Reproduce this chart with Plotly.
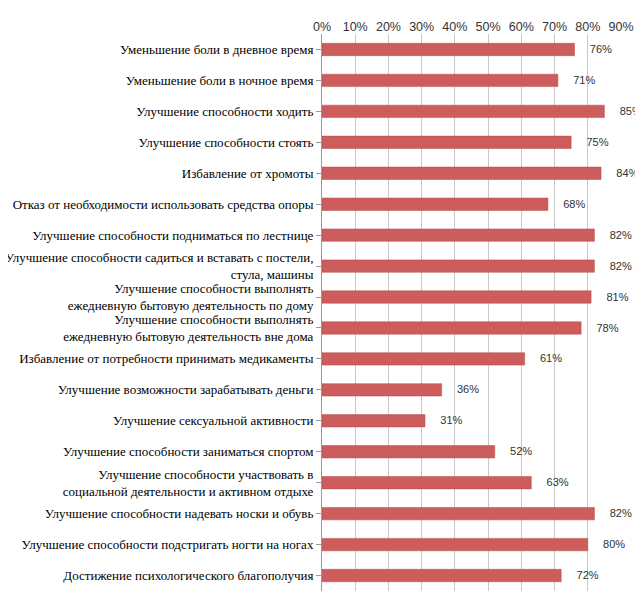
import plotly.graph_objects as go

categories = [
    "Уменьшение боли в дневное время",
    "Уменьшение боли в ночное время",
    "Улучшение способности ходить",
    "Улучшение способности стоять",
    "Избавление от хромоты",
    "Отказ от необходимости использовать средства опоры",
    "Улучшение способности подниматься по лестнице",
    "Улучшение способности садиться и вставать с постели,<br>стула, машины",
    "Улучшение способности выполнять<br>ежедневную бытовую деятельность по дому",
    "Улучшение способности выполнять<br>ежедневную бытовую деятельность вне дома",
    "Избавление от потребности принимать медикаменты",
    "Улучшение возможности зарабатывать деньги",
    "Улучшение сексуальной активности",
    "Улучшение способности заниматься спортом",
    "Улучшение способности участвовать в<br>социальной деятельности и активном отдыхе",
    "Улучшение способности надевать носки и обувь",
    "Улучшение способности подстригать ногти на ногах",
    "Достижение психологического благополучия",
]
values = [76, 71, 85, 75, 84, 68, 82, 82, 81, 78, 61, 36, 31, 52, 63, 82, 80, 72]
tick_vals = [0, 10, 20, 30, 40, 50, 60, 70, 80, 90]
tick_text = [f"{v}%" for v in tick_vals]

serif = 'Liberation Serif, DejaVu Serif, serif'

fig = go.Figure()
fig.add_trace(
    go.Bar(
        y=categories,
        x=values,
        orientation='h',
        marker=dict(color='#cd5c5c', line=dict(color='#b84a4a', width=0.5)),
        text=[f"    {v}%" for v in values],
        textposition='outside',
        textfont=dict(family='Liberation Sans', size=12.5, color='#333'),
        cliponaxis=False,
    )
)

fig.update_layout(
    width=643,
    height=593,
    margin=dict(l=314, r=30, t=26, b=10),
    paper_bgcolor='white',
    plot_bgcolor='white',
    bargap=0.6,
    showlegend=False,
    font=dict(family=serif, size=13, color='black'),
    xaxis=dict(
        side='top',
        range=[0, 90],
        tickvals=tick_vals,
        ticktext=tick_text,
        tickfont=dict(family='Liberation Sans', size=12.5, color='#333'),
        showgrid=True,
        gridcolor='#c8c8c8',
        zeroline=False,
        ticks='',
        automargin=False,
    ),
    yaxis=dict(
        autorange='reversed',
        showline=True,
        linecolor='#999',
        ticks='outside',
        ticklen=5,
        tickcolor='#999',
        tickfont=dict(family=serif, size=13, color='black'),
        automargin=False,
    ),
)

fig.write_html("out.html")
